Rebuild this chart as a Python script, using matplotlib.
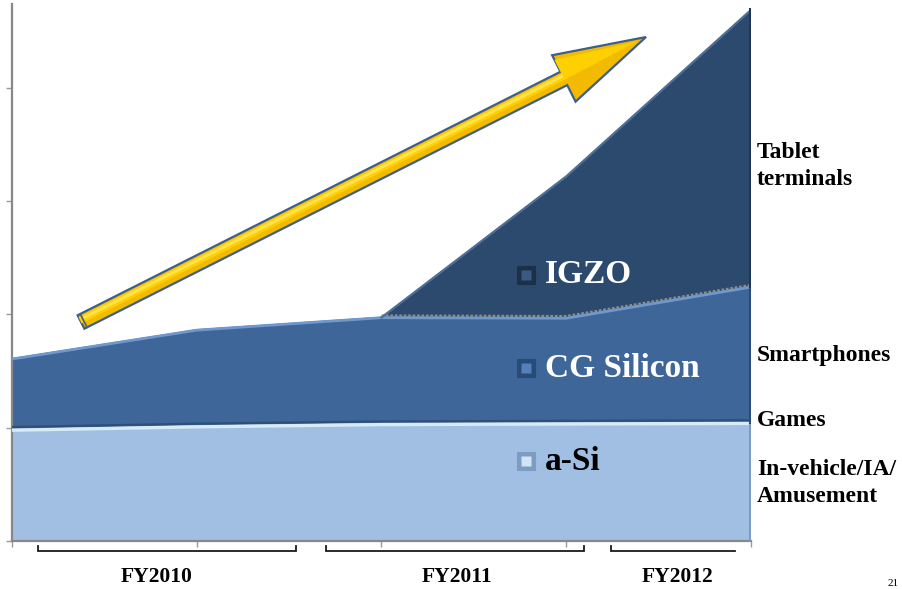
import matplotlib
matplotlib.use("Agg")
import matplotlib.pyplot as plt
from matplotlib.patches import Polygon
import matplotlib.transforms as mtransforms
import numpy as np

# Shipment mix by panel technology (stacked), sampled along the three fiscal years
points = [0, 1, 2, 3, 4]
a_si = [0.99, 1.02, 1.04, 1.045, 1.05]
cg_silicon = [0.625, 0.85, 0.94, 0.93, 1.20]
igzo = [0.0, 0.0, 0.0, 1.25, 2.445]
series_names = ["a-Si", "CG Silicon", "IGZO"]
fiscal_years = ["FY2010", "FY2011", "FY2012"]
applications = ["Tablet\nterminals", "Smartphones", "Games", "In-vehicle/IA/\nAmusement"]

W, H = 903, 589
SERIF = ["Liberation Serif", "DejaVu Serif"]

fill_colors = ["#A0BFE3", "#3F6699", "#2C4A6D"]

fig = plt.figure(figsize=(W / 100, H / 100), dpi=100)
fig.patch.set_facecolor("white")
ax = fig.add_axes([12 / W, (H - 541) / H, 739 / W, 537 / H])

x = np.array(points, dtype=float)
s1 = np.array(a_si)
s2 = s1 + np.array(cg_silicon)
s3 = s2 + np.array(igzo)

ax.stackplot(x, a_si, cg_silicon, igzo, colors=fill_colors, linewidth=0)

def shifted(px):
    return mtransforms.offset_copy(ax.transData, fig=fig, x=0, y=-px * 72 / 100, units="points")

# bevel-like edges along each layer
ax.plot(x, s1, color="#2F4F77", lw=1.6, transform=shifted(-1.8), solid_capstyle="butt", zorder=3)
ax.plot(x, s1, color="#D6EAF8", lw=2.4, transform=shifted(1.4), solid_capstyle="butt", zorder=3)
ax.plot(x, s2, color="#6E98CE", lw=2.0, transform=shifted(1.0), solid_capstyle="butt", zorder=3)
mask = x >= 2
ax.plot(x[mask], s2[mask], color="#8C8C8C", lw=1.6, ls=(0, (1.2, 0.8)), transform=shifted(-1.2), zorder=3)
ax.plot(x[mask], s3[mask], color="#4E6F98", lw=1.6, transform=shifted(0.8), zorder=3)

# darker right-hand faces
right_face = mtransforms.offset_copy(ax.transData, fig=fig, x=-1.0, y=0, units="points")
ax.plot([4, 4], [0, s1[-1]], color="#7E9CC2", lw=2.2, transform=right_face, zorder=3)
ax.plot([4, 4], [s1[-1], s2[-1]], color="#2D4C74", lw=2.2, transform=right_face, zorder=3)
ax.plot([4, 4], [s2[-1], s3[-1]], color="#1F3654", lw=2.2, transform=right_face, zorder=3)

ax.set_xlim(0, 4)
ax.set_ylim(0, 4.74)
ax.set_xticks(points)
ax.set_yticks([0, 1, 2, 3, 4])
ax.set_xticklabels([])
ax.set_yticklabels([])
ax.tick_params(axis="both", direction="out", length=4, width=1.0, color="#9A9A9A")
for side in ("top", "right"):
    ax.spines[side].set_visible(False)
for side in ("left", "bottom"):
    ax.spines[side].set_color("#888888")
    ax.spines[side].set_linewidth(1.6)
ax.set_facecolor("none")

# series labels inside the layers, each with a bevelled square swatch
label_pos = {"IGZO": 2.35, "CG Silicon": 1.527, "a-Si": 0.706}
text_colors = {"IGZO": "white", "CG Silicon": "white", "a-Si": "black"}
swatch_rim = {"IGZO": "#1C3049", "CG Silicon": "#2A4B75", "a-Si": "#7C9CC4"}
swatch_face = {"IGZO": "#3A5A82", "CG Silicon": "#5580B8", "a-Si": "#D3E4F5"}
for name in series_names:
    yv = label_pos[name]
    ax.plot([2.782], [yv], marker="s", ms=12.5, mfc=swatch_rim[name], mec=swatch_rim[name],
            mew=0.8, zorder=5)
    ax.plot([2.782], [yv], marker="s", ms=7.5, mfc=swatch_face[name], mec="none", zorder=6)
    ax.text(2.885, yv, name, color=text_colors[name], fontsize=24, fontweight="bold",
            family=SERIF, ha="left", va="center", zorder=6)

# overlay in pixel coordinates for annotations
ov = fig.add_axes([0, 0, 1, 1], zorder=5)
ov.set_xlim(0, W)
ov.set_ylim(H, 0)
ov.axis("off")

# growth arrow
tail = np.array([81.0, 322.0])
tip = np.array([646.0, 37.0])
d = tip - tail
u = d / np.hypot(*d)
n = np.array([-u[1], u[0]])
if n[1] < 0:
    n = -n
shaft_hw, head_hw, head_len = 7.5, 26.0, 92.0
base = tip - head_len * u
outline = [tail - shaft_hw * n, base - shaft_hw * n, base - head_hw * n, tip,
           base + head_hw * n, base + shaft_hw * n, tail + shaft_hw * n]
ov.add_patch(Polygon(outline, closed=True, facecolor="#F2BA00", edgecolor="#3F5F88", lw=1.6,
                     joinstyle="miter", zorder=6))
upper = [tail - shaft_hw * 0.75 * n, base - shaft_hw * 0.75 * n, base - head_hw * 0.8 * n,
         tip - 10 * u, base + 1.5 * n, tail + 1.5 * n]
ov.add_patch(Polygon(upper, closed=True, facecolor="#FFD000", edgecolor="none", zorder=7))
shine = [tail - shaft_hw * 0.55 * n + 4 * u, base - shaft_hw * 0.55 * n,
         base - shaft_hw * 0.15 * n, tail - shaft_hw * 0.15 * n + 4 * u]
ov.add_patch(Polygon(shine, closed=True, facecolor="#FFE24F", edgecolor="none", zorder=7))
cap = [tail - shaft_hw * n + 3 * u, tail + shaft_hw * n + 3 * u]
ov.plot([c[0] for c in cap], [c[1] for c in cap], color="#3F5F88", lw=1.2, zorder=8)

# application labels on the right
app_y = [166, 355, 421, 483]
for txt, yy in zip(applications, app_y):
    ov.text(757, yy, txt, fontsize=17, fontweight="bold", family=SERIF, ha="left",
            va="center", linespacing=1.4, color="black")

# fiscal-year brackets under the axis
bracket_spans = [(37.6, 296.0, True), (326.0, 584.0, True), (611.0, 735.0, False)]
label_x = [157, 457, 678]
for (x0, x1, right_end), fy, lx in zip(bracket_spans, fiscal_years, label_x):
    xs = [x0, x0, x1] + ([x1] if right_end else [])
    ys = [546, 551, 551] + ([546] if right_end else [])
    ov.plot(xs, ys, color="#1A1A1A", lw=1.3, solid_joinstyle="miter")
    ov.text(lx, 577, fy, fontsize=15.5, fontweight="bold", family=SERIF, ha="center",
            va="center", color="black")

# slide number at the bottom edge
ov.text(893, 588, "21", fontsize=8, family=SERIF, ha="center", va="bottom", color="black")

fig.savefig("out.png", dpi=100, facecolor="white")
